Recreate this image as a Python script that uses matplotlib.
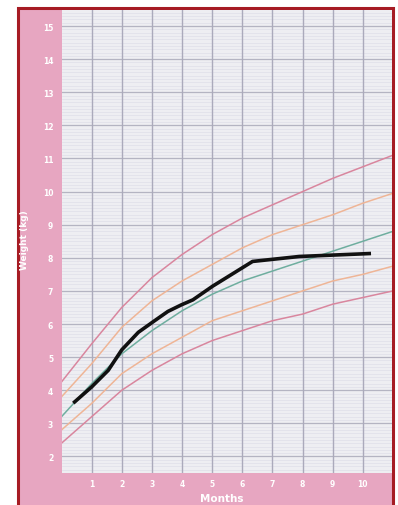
import matplotlib
matplotlib.use("Agg")
import matplotlib.pyplot as plt
from matplotlib.patches import Rectangle
import numpy as np

# Reference percentile curves (months, kg)
months = [0, 1, 2, 3, 4, 5, 6, 7, 8, 9, 10, 11]
p3 = [2.4, 3.2, 4.0, 4.6, 5.1, 5.5, 5.8, 6.1, 6.3, 6.6, 6.8, 7.0]
p15 = [2.8, 3.6, 4.5, 5.1, 5.6, 6.1, 6.4, 6.7, 7.0, 7.3, 7.5, 7.75]
p50 = [3.2, 4.2, 5.1, 5.8, 6.4, 6.9, 7.3, 7.6, 7.9, 8.2, 8.5, 8.8]
p85 = [3.8, 4.8, 5.9, 6.7, 7.3, 7.8, 8.3, 8.7, 9.0, 9.3, 9.65, 9.95]
p97 = [4.25, 5.4, 6.5, 7.4, 8.1, 8.7, 9.2, 9.6, 10.0, 10.4, 10.75, 11.1]

# Child's measured weights
child_months = [0.39, 1.00, 1.55, 2.00, 2.55, 3.09, 3.53, 3.98, 4.36,
                5.01, 6.34, 7.89, 10.27]
child_kg = [3.61, 4.10, 4.60, 5.22, 5.75, 6.10, 6.38, 6.58, 6.73,
            7.14, 7.89, 8.04, 8.13]

x_ticks = [1, 2, 3, 4, 5, 6, 7, 8, 9, 10]
y_ticks = [2, 3, 4, 5, 6, 7, 8, 9, 10, 11, 12, 13, 14, 15]

W, H = 398, 506
fig = plt.figure(figsize=(W / 100, H / 100), dpi=100)
fig.patch.set_facecolor("white")

pink = "#e7a6c1"
# pink panel with red border
fig.patches.append(Rectangle((18 / W, -0.05), (393 - 18) / W, (H - 9) / H + 0.05,
                             transform=fig.transFigure, facecolor=pink,
                             edgecolor="#a61c24", linewidth=2.2, zorder=-5))

ax = fig.add_axes([61.5 / W, (H - 474) / H, (391.5 - 61.5) / W, (474 - 10.5) / H])
ax.set_zorder(2)
ax.set_facecolor("#eeeef2")
ax.set_xlim(0, 10.95)
ax.set_ylim(1.5, 15.5)

# minor grid
for v in np.arange(1.6, 15.5, 0.1):
    if abs(v - round(v)) > 0.05:
        ax.axhline(v, color="#dfdfe8", lw=0.5, zorder=1)
for v in y_ticks:
    ax.axhline(v, color="#b4b4c2", lw=0.9, zorder=1.5)
for v in x_ticks:
    ax.axvline(v, color="#abaabb", lw=1.0, zorder=1.5)

curve_pink = "#d9869e"
curve_orange = "#efb596"
curve_green = "#6fae9f"
ax.plot(months, p97, color=curve_pink, lw=1.1, zorder=2)
ax.plot(months, p85, color=curve_orange, lw=1.1, zorder=2)
ax.plot(months, p50, color=curve_green, lw=1.1, zorder=2)
ax.plot(months, p15, color=curve_orange, lw=1.1, zorder=2)
ax.plot(months, p3, color=curve_pink, lw=1.1, zorder=2)

ax.plot(child_months, child_kg, color="#111111", lw=2.6, zorder=3,
        solid_capstyle="butt", solid_joinstyle="round")

ax.set_xticks(x_ticks)
ax.set_yticks(y_ticks)
ax.tick_params(length=0, labelcolor="white", labelsize=5.5)
ax.tick_params(axis="y", pad=6)
ax.tick_params(axis="x", pad=4)
for lab in ax.get_xticklabels() + ax.get_yticklabels():
    lab.set_fontweight("bold")
for s in ax.spines.values():
    s.set_visible(False)

fig.text(25 / W, 1 - 240 / H, "Weight (kg)", rotation=90, color="white",
         fontsize=6.5, fontweight="bold", ha="center", va="center")
fig.text(222 / W, 1 - 499 / H, "Months", color="white",
         fontsize=7.5, fontweight="bold", ha="center", va="center")

fig.savefig("out.png", dpi=100)
